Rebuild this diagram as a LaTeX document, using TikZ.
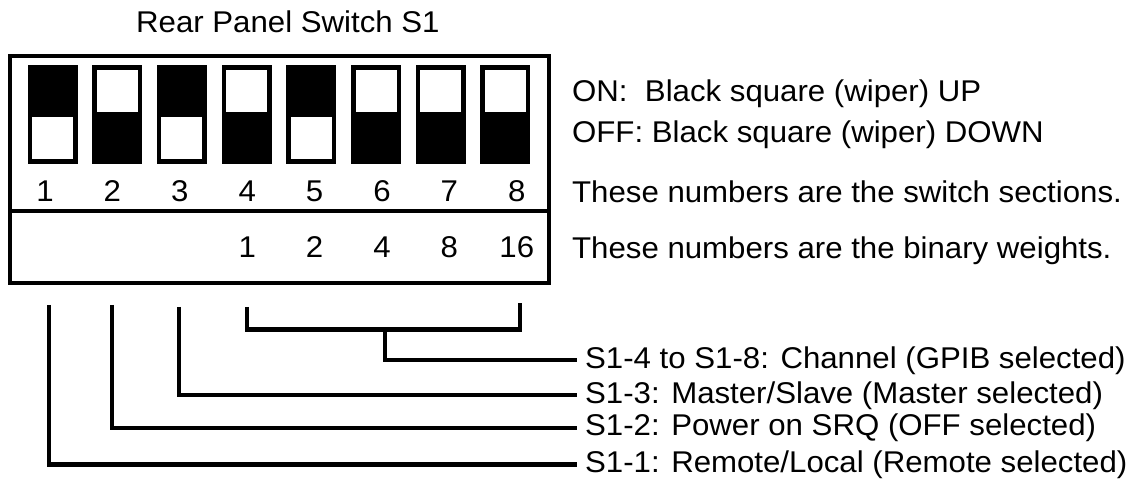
\documentclass[tikz,border=0pt]{standalone}
\usepackage{fontspec}
\setmainfont[FakeStretch=1.04]{Liberation Sans}
\usetikzlibrary{positioning,calc}

\begin{document}
\begin{tikzpicture}[x=1pt,y=-1pt,line width=4.3pt,
font=\fontsize{30}{36}\selectfont]

\tikzstyle{txt}=[inner sep=0pt,anchor=base west]
\tikzstyle{num}=[inner sep=0pt,anchor=base]
\tikzstyle{lab}=[inner xsep=6pt,inner ysep=0pt,anchor=west]

\useasboundingbox (0,0) rectangle (1128,481);

%title
\node[txt] (title) at (134,32.3) {Rear Panel Switch S1};

%switch housing
\draw[line width=4pt] (10.3,56.5) rectangle (548.7,283);
\draw[line width=4pt] (10.3,211.5) -- (548.7,211.5);

%switch sections, 1 = ON (wiper up)
\foreach \i/\s in {1/1,2/0,3/1,4/0,5/1,6/0,7/0,8/0}{
  \pgfmathsetmacro{\xa}{27.5+64.7*(\i-1)}
  \fill (\xa,65.5) rectangle ++(50,98.5);
  \ifnum\s=1
    \fill[white] (\xa+4.5,117.5) rectangle ++(41,42);
  \else
    \fill[white] (\xa+4.5,70) rectangle ++(41,42.5);
  \fi
  \node[num] (n\i) at ({45+67.4*(\i-1)},201.7) {\i};
}

%binary weights
\foreach \i/\w in {4/1,5/2,6/4,7/8,8/16}
  \node[num] (w\i) at ({45+67.4*(\i-1)},258) {\w};

%legend
\node[txt] (on) at (570,102) {ON:\ \ Black square (wiper) UP};
\node[txt] (off) at (570,142.3) {OFF: Black square (wiper) DOWN};
\node[txt] (sect) at (570,202.5) {These numbers are the switch sections.};
\node[txt] (wgt) at (570,258.5) {These numbers are the binary weights.};

%settings
\node[lab] (chan) at (577,360.3) {S1-4 to S1-8: Channel (GPIB selected)};
\node[lab] (mast) at (577,395.3) {S1-3: Master/Slave (Master selected)};
\node[lab] (srq) at (577,427.8) {S1-2: Power on SRQ (OFF selected)};
\node[lab] (remote) at (577,464.5) {S1-1: Remote/Local (Remote selected)};

\coordinate (t1) at (49,305);
\coordinate (t2) at (111.7,305);
\coordinate (t3) at (178.8,307);
\coordinate (t4) at (247,307);
\coordinate (t8) at (519.8,303);
\coordinate (bar) at (384.7,329.5);

\draw (t1) |- (remote.west);
\draw (t2) |- (srq.west);
\draw (t3) |- (mast.west);
\draw (t4) |- (bar) -| (t8);
\draw (bar) |- (chan.west);

\end{tikzpicture}
\end{document}
